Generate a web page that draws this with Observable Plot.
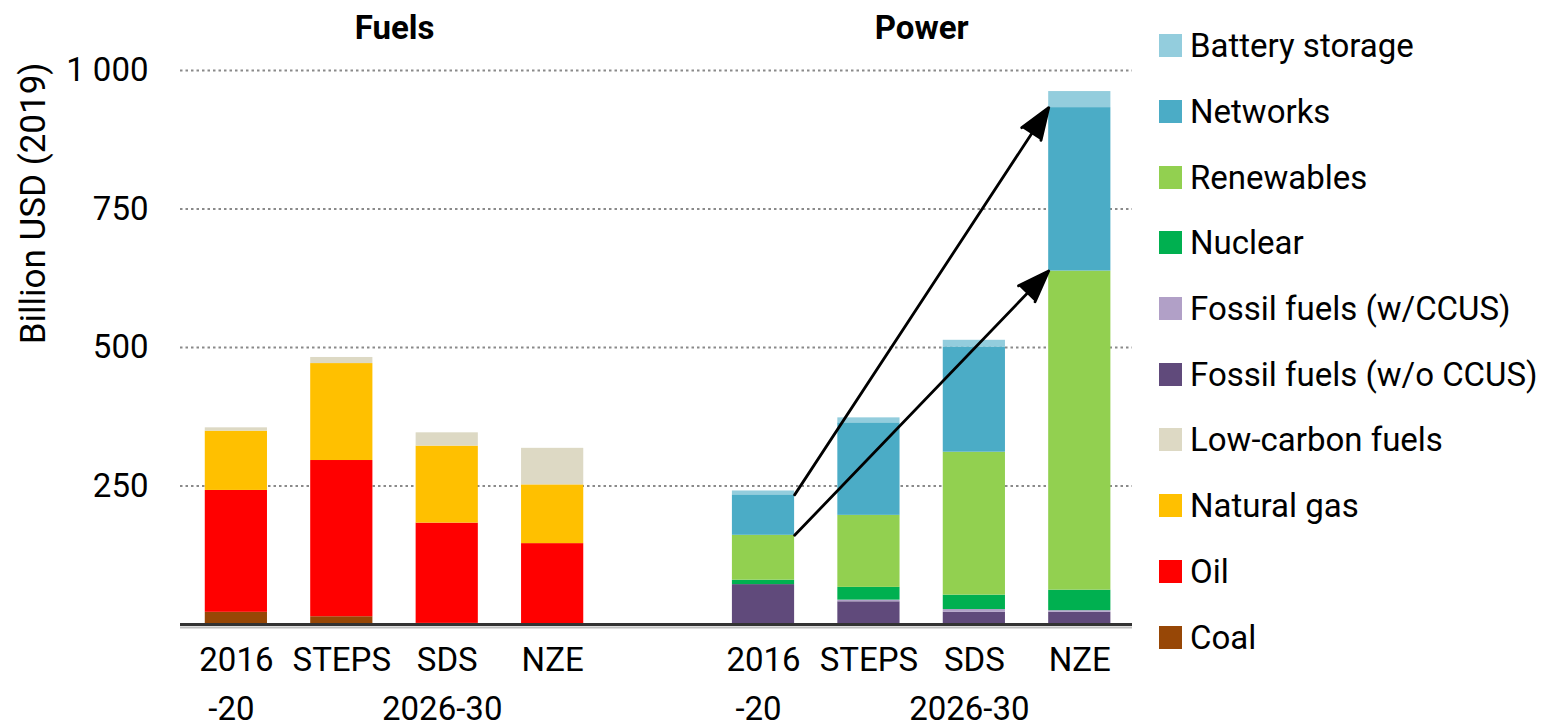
<!DOCTYPE html>
<html>
<head>
<meta charset="utf-8">
<script src="https://cdn.jsdelivr.net/npm/d3@7"></script>
<script src="https://cdn.jsdelivr.net/npm/@observablehq/plot@0.6"></script>
<style>
  body { margin: 0; background: #fff; font-family: Roboto, sans-serif; }
  #wrap { position: relative; width: 1542px; height: 727px; overflow: hidden; }
  #legend { position: absolute; left: 1159px; top: 13px; }
  .item { display: flex; align-items: center; height: 65.7px; }
  .sw { width: 23px; height: 23px; margin-right: 8px; flex: none; }
  .lab { font-size: 33px; color: #000; white-space: nowrap; line-height: 1; }
</style>
</head>
<body>
<div id="wrap"><div id="chart"></div><div id="legend"></div></div>
<script>
// ---- data ----
const groups = ["Fuels", "Power"];
const scenarioTop = ["2016", "STEPS", "SDS", "NZE"];
const scenarioBottom = ["-20", "", "2026-30", ""];
// slot index of each bar (4 fuels bars, empty slot, 4 power bars)
const barSlots = [0, 1, 2, 3, 5, 6, 7, 8];
const barGroup = ["Fuels", "Fuels", "Fuels", "Fuels", "Power", "Power", "Power", "Power"];

// stacking order bottom -> top
const seriesNames = ["Coal", "Oil", "Natural gas", "Low-carbon fuels",
  "Fossil fuels (w/o CCUS)", "Fossil fuels (w/CCUS)", "Nuclear", "Renewables", "Networks", "Battery storage"];
const seriesColors = ["#974706", "#FF0000", "#FFC000", "#DDD9C4",
  "#604A7B", "#B1A0C7", "#00B050", "#92D050", "#4BACC6", "#93CDDD"];

// values (billion USD 2019) per bar: Fuels 2016-20, STEPS, SDS, NZE | Power 2016-20, STEPS, SDS, NZE
const coal        = [22, 14, 2, 0,   0, 0, 0, 0];
const oil         = [220, 282, 181, 146,   0, 0, 0, 0];
const naturalGas  = [107, 175, 139, 106,   0, 0, 0, 0];
const lowCarbon   = [6, 11, 24, 66,   0, 0, 0, 0];
const fossilNoCCUS= [0, 0, 0, 0,   72, 41, 22, 22];
const fossilCCUS  = [0, 0, 0, 0,   0, 3, 5, 3];
const nuclear     = [0, 0, 0, 0,   8, 23, 26, 37];
const renewables  = [0, 0, 0, 0,   81, 130, 258, 576];
const networks    = [0, 0, 0, 0,   73, 167, 190, 295];
const battery     = [0, 0, 0, 0,   7, 9, 12, 29];
const seriesValues = [coal, oil, naturalGas, lowCarbon, fossilNoCCUS, fossilCCUS, nuclear, renewables, networks, battery];

const yTicks = [250, 500, 750, 1000];
const yLabel = "Billion USD (2019)";

// ---- build stacked segments ----
const HALF = 0.295; // half bar width in slot units
const segments = [];
const cumTop = barSlots.map(() => ({}));
barSlots.forEach((slot, b) => {
  let acc = 0;
  seriesNames.forEach((name, s) => {
    const v = seriesValues[s][b];
    if (v > 0) segments.push({slot, series: name, y1: acc, y2: acc + v});
    acc += v;
    cumTop[b][name] = acc;
  });
});

// arrows: Power 2016-20 -> Power NZE (top of networks, top of renewables)
const from = 4, to = 7;
const arrows = ["Networks", "Renewables"].map(n => ({
  x1: barSlots[from] + HALF, y1: cumTop[from][n],
  x2: barSlots[to] - HALF, y2: cumTop[to][n]
}));

const labelsTop = barSlots.map((slot, i) => ({slot, text: scenarioTop[i % 4]}));
const labelsBottom = barSlots.map((slot, i) => ({slot, text: scenarioBottom[i % 4]})).filter(d => d.text);
const titles = groups.map(g => ({
  text: g,
  slot: d3.mean(barSlots.filter((s, i) => barGroup[i] === g))
}));

const chart = Plot.plot({
  width: 1542,
  height: 727,
  marginLeft: 180,
  marginRight: 410,
  marginTop: 70,
  marginBottom: 103,
  style: {fontFamily: "Roboto, sans-serif", fontSize: "33px", color: "#000", background: "transparent"},
  x: {domain: [-0.53, 8.5], axis: null},
  y: {domain: [0, 1000], ticks: yTicks, tickSize: 0, tickPadding: 32, label: null,
      tickFormat: d => d3.format(",")(d).replace(",", " ")},
  color: {domain: seriesNames, range: seriesColors},
  marks: [
    Plot.ruleY(yTicks, {stroke: "#8a8a8a", strokeWidth: 2, strokeDasharray: "2.5 3"}),
    Plot.rect(segments, {x1: d => d.slot - HALF, x2: d => d.slot + HALF, y1: "y1", y2: "y2", fill: "series"}),
    Plot.ruleY([0], {stroke: "#c0c0c0", strokeWidth: 2, dy: 3}),
    Plot.ruleY([0], {stroke: "#333", strokeWidth: 3}),
    Plot.arrow(arrows, {x1: "x1", y1: "y1", x2: "x2", y2: "y2", stroke: "#000", fill: "#000",
      strokeWidth: 2.8, headLength: 18, headAngle: 40}),
    Plot.text(labelsTop, {x: "slot", text: "text", frameAnchor: "bottom", lineAnchor: "top", dy: 23, fill: "#000"}),
    Plot.text(labelsBottom, {x: "slot", text: "text", frameAnchor: "bottom", lineAnchor: "top", dy: 72, dx: -5, fill: "#000"}),
    Plot.text(titles, {x: "slot", text: "text", frameAnchor: "top", lineAnchor: "top", dy: -55, fontWeight: "bold", fill: "#000"}),
    Plot.text([yLabel], {frameAnchor: "top-left", rotate: -90, textAnchor: "end", lineAnchor: "middle",
      dx: -147, dy: -8, fontSize: 35, fill: "#000"})
  ]
});
document.getElementById("chart").appendChild(chart);

// ---- legend (top -> bottom, reverse stacking order) ----
const legend = document.getElementById("legend");
seriesNames.slice().reverse().forEach((name, i) => {
  const color = seriesColors[seriesNames.length - 1 - i];
  const item = document.createElement("div");
  item.className = "item";
  item.innerHTML = `<span class="sw" style="background:${color}"></span><span class="lab"></span>`;
  item.querySelector(".lab").textContent = name;
  legend.appendChild(item);
});
</script>
</body>
</html>
